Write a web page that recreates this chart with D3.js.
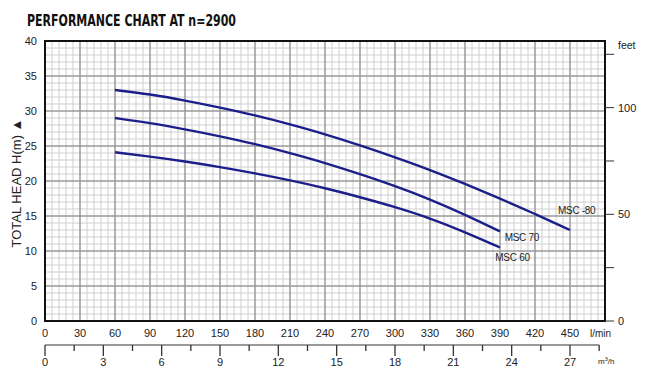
<!DOCTYPE html>
<html>
<head>
<meta charset="utf-8">
<script src="https://cdn.jsdelivr.net/npm/d3@7"></script>
<style>
  html, body { margin: 0; padding: 0; background: #fff; }
  svg { display: block; }
  text { font-family: "Liberation Sans", Arial, sans-serif; fill: #222; }
</style>
</head>
<body>
<svg id="chart" width="650" height="380"></svg>
<script>
// ---- data ----
const flowLpm = [60, 90, 120, 150, 180, 210, 240, 270, 300, 330, 360, 390, 420, 450];
const msc80 = [33.0, 32.4, 31.5, 30.5, 29.4, 28.1, 26.7, 25.1, 23.4, 21.6, 19.6, 17.5, 15.3, 13.0];
const msc70 = [29.0, 28.3, 27.4, 26.4, 25.3, 24.0, 22.6, 21.0, 19.3, 17.4, 15.2, 12.8];
const msc60 = [24.1, 23.5, 22.8, 22.0, 21.1, 20.1, 19.0, 17.7, 16.3, 14.7, 12.7, 10.5];
const seriesNames = ["MSC -80", "MSC 70", "MSC 60"];
const xTicks = [0, 30, 60, 90, 120, 150, 180, 210, 240, 270, 300, 330, 360, 390, 420, 450];
const yTicks = [0, 5, 10, 15, 20, 25, 30, 35, 40];
const feetTicks = [0, 25, 50, 75, 100, 125];
const feetLabels = [0, 50, 100];
const m3hMajor = [0, 3, 6, 9, 12, 15, 18, 21, 24, 27];
const m3hMinor = [1.5, 4.5, 7.5, 10.5, 13.5, 16.5, 19.5, 22.5, 25.5, 28.5];

const svg = d3.select("#chart");
const L = 45, R = 605, T = 41, B = 321;
const x = d3.scaleLinear().domain([0, 480]).range([L, R]);
const y = d3.scaleLinear().domain([0, 40]).range([B, T]);
const yFt = d3.scaleLinear().domain([0, 40 / 0.3048]).range([B, T]);
const xM = d3.scaleLinear().domain([0, 28.8]).range([L, R]);

// title
svg.append("text").attr("x", 27).attr("y", 26)
  .attr("textLength", 209).attr("lengthAdjust", "spacingAndGlyphs")
  .style("font-family", "'Liberation Sans Narrow', 'DejaVu Sans Condensed', sans-serif")
  .style("font-weight", "bold").style("font-size", "15.5px").style("fill", "#111")
  .text("PERFORMANCE CHART AT n=2900");

// grid
const g = svg.append("g");
const minorX = d3.range(0, 481, 6).filter(v => v % 30 !== 0);
const minorY = d3.range(0, 41, 1).filter(v => v % 5 !== 0);
g.selectAll(".mx").data(minorX).enter().append("line")
  .attr("x1", d => x(d)).attr("x2", d => x(d)).attr("y1", T).attr("y2", B)
  .attr("stroke", "#cfcfcf").attr("stroke-width", 1);
g.selectAll(".my").data(minorY).enter().append("line")
  .attr("x1", L).attr("x2", R).attr("y1", d => y(d)).attr("y2", d => y(d))
  .attr("stroke", "#cfcfcf").attr("stroke-width", 1);
g.selectAll(".Mx").data(d3.range(30, 480, 30)).enter().append("line")
  .attr("x1", d => x(d)).attr("x2", d => x(d)).attr("y1", T).attr("y2", B)
  .attr("stroke", "#9a9a9a").attr("stroke-width", 1.5);
g.selectAll(".My").data(d3.range(5, 40, 5)).enter().append("line")
  .attr("x1", L).attr("x2", R).attr("y1", d => y(d)).attr("y2", d => y(d))
  .attr("stroke", "#9a9a9a").attr("stroke-width", 1.5);

// border
svg.append("rect").attr("x", L).attr("y", T).attr("width", R - L).attr("height", B - T)
  .attr("fill", "none").attr("stroke", "#111").attr("stroke-width", 2);

// curves
const line = d3.line().x(d => x(d[0])).y(d => y(d[1])).curve(d3.curveBasis);
[msc80, msc70, msc60].forEach(vals => {
  const pts = vals.map((v, i) => [flowLpm[i], v]);
  svg.append("path").attr("d", line(pts)).attr("fill", "none")
    .attr("stroke", "#1c1f8a").attr("stroke-width", 2.4);
});

// series labels
const labelPos = [[x(450) - 12, y(15.3)], [x(394), y(11.5)], [x(386), y(8.6)]];
seriesNames.forEach((n, i) => {
  svg.append("text").attr("x", labelPos[i][0]).attr("y", labelPos[i][1])
    .style("font-size", "10px").style("letter-spacing", "-0.3px").text(n);
});

// y axis left labels
svg.selectAll(".yl").data(yTicks).enter().append("text")
  .attr("x", 37).attr("y", d => y(d) + 4).attr("text-anchor", "end")
  .style("font-size", "11px").text(d => d);

// y title
svg.append("text").attr("transform", "translate(21,183) rotate(-90)")
  .attr("text-anchor", "middle").style("font-size", "13px")
  .text("TOTAL HEAD H(m) \u25B2");

// x labels
svg.selectAll(".xl").data(xTicks).enter().append("text")
  .attr("x", d => x(d)).attr("y", 337).attr("text-anchor", "middle")
  .style("font-size", "11px").text(d => d);
svg.append("text").attr("x", 590).attr("y", 337).style("font-size", "10px").text("l/min");

// right feet axis
svg.selectAll(".ft").data(feetTicks).enter().append("line")
  .attr("x1", R).attr("x2", 614).attr("y1", d => yFt(d)).attr("y2", d => yFt(d))
  .attr("stroke", "#333").attr("stroke-width", 1);
svg.selectAll(".ftl").data(feetLabels).enter().append("text")
  .attr("x", 618).attr("y", d => yFt(d) + 4).style("font-size", "11px").text(d => d);
svg.append("text").attr("x", 618).attr("y", 49).style("font-size", "10.5px").text("feet");

// m3/h axis
svg.append("line").attr("x1", L).attr("x2", xM(28.5)).attr("y1", 345).attr("y2", 345)
  .attr("stroke", "#333").attr("stroke-width", 1);
svg.selectAll(".mM").data(m3hMajor).enter().append("line")
  .attr("x1", d => xM(d)).attr("x2", d => xM(d)).attr("y1", 345).attr("y2", 356)
  .attr("stroke", "#333").attr("stroke-width", 1.3);
svg.selectAll(".mm").data(m3hMinor).enter().append("line")
  .attr("x1", d => xM(d)).attr("x2", d => xM(d)).attr("y1", 345).attr("y2", 351)
  .attr("stroke", "#333").attr("stroke-width", 1.3);
svg.selectAll(".mL").data(m3hMajor).enter().append("text")
  .attr("x", d => xM(d)).attr("y", 366).attr("text-anchor", "middle")
  .style("font-size", "11px").text(d => d);
const mt = svg.append("text").attr("x", 598).attr("y", 364).style("font-size", "8px");
mt.append("tspan").text("m");
mt.append("tspan").attr("dy", -3).style("font-size", "5.5px").text("3");
mt.append("tspan").attr("dy", 3).text("/h");
</script>
</body>
</html>
